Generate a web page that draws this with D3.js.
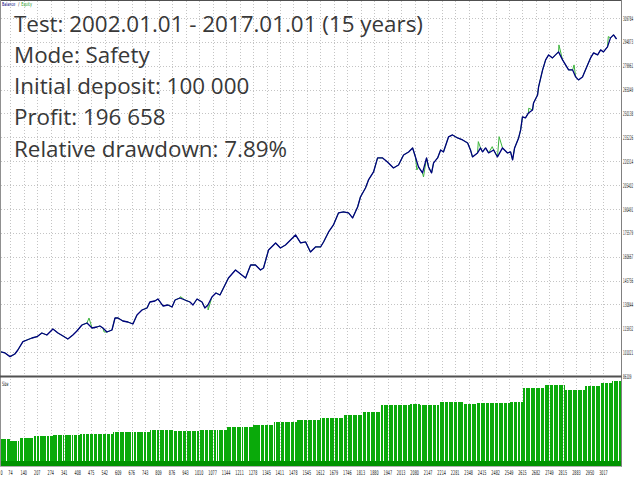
<!DOCTYPE html>
<html>
<head>
<meta charset="utf-8">
<script src="https://cdn.jsdelivr.net/npm/d3@7"></script>
<style>
  body { margin: 0; background: #fff; }
  svg { display: block; }
</style>
</head>
<body>
<svg width="640" height="480"></svg>
<script>
// balance curve (trade number, balance)
const balanceTrades = [0, 22, 47, 72, 96, 111, 136, 156, 181, 206, 230, 255, 285, 310, 335, 359, 384, 404, 429, 454,
  479, 503, 518, 533, 553, 578, 593, 608, 632, 657, 682, 702, 727, 752, 766, 791, 806, 831, 856, 876,
  891, 915, 940, 965, 980, 1000, 1025, 1039, 1054, 1074, 1094, 1114, 1156, 1191, 1241, 1266, 1290, 1315, 1330, 1355,
  1390, 1414, 1439, 1464, 1489, 1514, 1539, 1563, 1588, 1613, 1628, 1653, 1677, 1702, 1727, 1752, 1772, 1797, 1811, 1836,
  1851, 1876, 1896, 1921, 1945, 1975, 2000, 2025, 2050, 2070, 2084, 2099, 2119, 2139, 2149, 2164, 2174, 2194, 2209, 2223,
  2248, 2268, 2293, 2318, 2343, 2357, 2367, 2392, 2407, 2417, 2432, 2447, 2472, 2491, 2516, 2541, 2556, 2566, 2576, 2596,
  2606, 2615, 2630, 2645, 2665, 2670, 2690, 2695, 2715, 2730, 2745, 2764, 2779, 2794, 2814, 2829, 2844, 2864, 2879, 2893,
  2913, 2938, 2953, 2968, 2988, 3003, 3017, 3037, 3052, 3067, 3082];
const balanceValues = [100000, 101300, 100500, 98200, 99850, 102350, 107540, 108600, 109850, 110660, 112975, 111725, 115475, 112975, 111100, 109225, 111725, 114225, 117975, 119225,
  116100, 116725, 117350, 116100, 113600, 114850, 122350, 122350, 120475, 119850, 118600, 124225, 127350, 128600, 132350, 132975, 134225, 129850, 130475, 129225,
  133600, 134850, 133600, 132350, 130475, 134225, 132350, 128600, 130475, 135475, 137975, 136725, 147350, 152350, 147350, 155475, 155475, 152350, 153600, 164850,
  169225, 166100, 167975, 171100, 174225, 169225, 169850, 163600, 166725, 166725, 169850, 176100, 180475, 187975, 188600, 187975, 184850, 191725, 197975, 203600,
  208600, 213600, 222350, 222350, 219850, 216100, 217975, 224225, 226100, 228600, 222975, 216725, 212975, 222350, 216725, 212975, 219225, 222350, 227350, 226100,
  235475, 236725, 234850, 233600, 231725, 227350, 222975, 225475, 228600, 226100, 228600, 225475, 227350, 222975, 228600, 225475, 226100, 221100, 228600, 234850,
  239850, 247975, 247350, 250475, 252350, 256725, 261725, 266725, 277350, 283600, 286725, 284850, 286725, 288600, 283600, 280475, 277350, 277350, 272975, 271100,
  272975, 280475, 284850, 287975, 286725, 289850, 288600, 291725, 297350, 299225, 296658];

// equity where it leaves the balance line
const equityTrades = [464, 539, 918, 1055, 2091, 2124, 2396, 2465, 2499, 2646, 2796, 2871, 3041];
const equityValues = [122350, 113600, 135700, 127350, 214850, 210500, 232540, 229410, 235660, 253400, 292975, 280475, 298160];

// lot size steps (trade where the level starts, lots)
const lotStepTrades = [0, 72, 121, 185, 285, 419, 583, 682, 766, 880, 1015, 1064, 1149, 1278, 1377, 1496, 1610, 1724, 1824, 1908,
  2057, 2107, 2206, 2319, 2389, 2553, 2618, 2727, 2826, 2926, 3000, 3060];
const lotStepValues = [1.03, 0.97, 1.07, 1.14, 1.18, 1.22, 1.28, 1.31, 1.37, 1.35, 1.39, 1.37, 1.49, 1.58, 1.68, 1.75, 1.83, 1.94, 2.06, 2.32,
  2.36, 2.32, 2.44, 2.38, 2.40, 2.44, 2.97, 3.09, 2.90, 3.05, 3.16, 3.24];
// trades that opened at the minimum lot (each a short run of 5 trades)
const smallLotTrades = [52, 105, 118, 138, 184, 201, 216, 250, 267, 306, 328, 340, 373, 386, 403, 427, 444, 465, 485, 502,
  527, 548, 568, 589, 614, 637, 671, 681, 697, 730, 747, 770, 796, 813, 836, 857, 879, 902, 924, 945,
  968, 995, 1011, 1034, 1056, 1078, 1094, 1105, 1130, 1150, 1167, 1193, 1217, 1230, 1254, 1279, 1312, 1332, 1354, 1375,
  1388, 1412, 1431, 1461, 1481, 1498, 1524, 1544, 1569, 1590, 1614, 1635, 1656, 1680, 1701, 1723, 1743, 1768, 1792, 1817,
  1838, 1858, 1883, 1908, 1924, 1949, 1971, 1991, 2016, 2040, 2065, 2090, 2110, 2140, 2165, 2186, 2202, 2226, 2247, 2272,
  2292, 2318, 2338, 2358, 2384, 2404, 2429, 2450, 2474, 2495, 2520, 2540, 2566, 2586, 2603, 2628, 2652, 2677, 2702, 2722,
  2748, 2768, 2793, 2818, 2837, 2859, 2884, 2909, 2934, 2954, 2975, 3000, 3020, 3041, 3066, 3091];
const minLot = 0.2;
const runLength = 5;
const lastTrade = 3105;

const yTicks = [86109, 101021, 115932, 130844, 145756, 160667, 175579, 190491, 205402, 220314, 235226, 250138, 265049, 279961, 294873, 309784];
const xTicks = [0, 74, 140, 207, 274, 341, 408, 475, 542, 609, 676, 743, 809, 876, 943, 1010, 1077, 1144, 1211, 1278,
  1345, 1411, 1478, 1545, 1612, 1679, 1746, 1813, 1880, 1947, 2013, 2080, 2147, 2214, 2281, 2348, 2415, 2482, 2549, 2615,
  2682, 2749, 2815, 2883, 2950, 3017];

const infoLines = [
  "Test: 2002.01.01 - 2017.01.01 (15 years)",
  "Mode: Safety",
  "Initial deposit: 100 000",
  "Profit: 196 658",
  "Relative drawdown: 7.89%"
];

const W = 640, H = 480;
const plotRight = 621.5;
const mainTop = 0, mainBottom = 376;
const subTop = 378, subBottom = 466;

const svg = d3.select("svg");
svg.append("rect").attr("width", W).attr("height", H).attr("fill", "#fff");

const x = d3.scaleLinear().domain([0, lastTrade]).range([-4.5, 621.2]);
const y = d3.scaleLinear().domain([86109, 309784]).range([mainBottom, 18]);
const ySize = d3.scaleLinear().domain([0, 3.2]).range([subBottom, 382]);

const defs = svg.append("defs");
defs.append("clipPath").attr("id", "clipMain")
  .append("rect").attr("x", 0).attr("y", mainTop).attr("width", plotRight).attr("height", mainBottom - mainTop);
defs.append("clipPath").attr("id", "clipSub")
  .append("rect").attr("x", 0).attr("y", subTop).attr("width", plotRight).attr("height", subBottom - subTop);

// grid
const grid = svg.append("g").attr("stroke", "#c4c4c4").attr("stroke-width", 1).attr("stroke-dasharray", "1,2");
grid.selectAll(".hg").data(yTicks.slice(1)).enter().append("line")
  .attr("x1", 1).attr("x2", plotRight)
  .attr("y1", d => Math.round(y(d)) + 0.5).attr("y2", d => Math.round(y(d)) + 0.5);
grid.selectAll(".vg").data(xTicks.slice(1)).enter().append("line")
  .attr("x1", d => Math.round(x(d)) + 0.5).attr("x2", d => Math.round(x(d)) + 0.5)
  .attr("y1", 1).attr("y2", subBottom);

// size bars
const sizeG = svg.append("g").attr("clip-path", "url(#clipSub)").attr("shape-rendering", "crispEdges");
const smallSet = new Set();
smallLotTrades.forEach(s => { for (let k = 0; k < runLength; k++) smallSet.add(s + k); });
const breaks = Array.from(new Set([...lotStepTrades, ...smallLotTrades, ...smallLotTrades.map(s => s + runLength), lastTrade]))
  .sort((a, b) => a - b);
function stepLot(t) {
  let v = lotStepValues[0];
  lotStepTrades.forEach((s, k) => { if (t >= s) v = lotStepValues[k]; });
  return v;
}
const bars = [];
for (let k = 0; k < breaks.length - 1; k++) {
  const a = breaks[k], b = breaks[k + 1];
  bars.push({ a: a, b: b, lot: smallSet.has(a) ? minLot : stepLot(a) });
}
sizeG.selectAll("rect.bar").data(bars).enter().append("rect")
  .attr("class", "bar")
  .attr("x", d => x(d.a))
  .attr("width", d => Math.max(x(d.b) - x(d.a), 0.6))
  .attr("y", d => ySize(d.lot))
  .attr("height", d => subBottom - ySize(d.lot))
  .attr("fill", d => d.lot === minLot ? "#009400" : "#0aaa0a");
// every trade holds at least the minimum lot
sizeG.append("rect")
  .attr("x", x(0)).attr("width", x(lastTrade) - x(0))
  .attr("y", ySize(minLot)).attr("height", subBottom - ySize(minLot))
  .attr("fill", "#009400");

// equity + balance
const balance = balanceTrades.map((t, k) => ({ t: t, v: balanceValues[k] }));
const equity = balance.concat(equityTrades.map((t, k) => ({ t: t, v: equityValues[k] })))
  .sort((a, b) => a.t - b.t);
const line = d3.line().x(d => x(d.t)).y(d => y(d.v));
const mainG = svg.append("g").attr("clip-path", "url(#clipMain)");
mainG.append("path").datum(equity)
  .attr("d", line).attr("fill", "none").attr("stroke", "#3cb43c").attr("stroke-width", 1);
mainG.append("path").datum(balance)
  .attr("d", line).attr("fill", "none").attr("stroke", "#000080").attr("stroke-width", 1.3)
  .attr("stroke-linejoin", "round");

// frame
const frame = svg.append("g");
frame.append("line").attr("x1", 0).attr("x2", plotRight).attr("y1", 0.5).attr("y2", 0.5).attr("stroke", "#505050");
frame.append("line").attr("x1", 0.5).attr("x2", 0.5).attr("y1", 0).attr("y2", subBottom).attr("stroke", "#909090");
frame.append("line").attr("x1", plotRight).attr("x2", plotRight).attr("y1", 0).attr("y2", subBottom + 1).attr("stroke", "#808080");
frame.append("line").attr("x1", 0).attr("x2", plotRight).attr("y1", 376.5).attr("y2", 376.5)
  .attr("stroke", "#505050").attr("stroke-width", 2);
frame.append("line").attr("x1", 0).attr("x2", plotRight).attr("y1", subBottom + 0.5).attr("y2", subBottom + 0.5)
  .attr("stroke", "#b0b0b0");

// right axis labels (squeezed horizontally like the reference)
const yAxis = svg.append("g")
  .attr("transform", "translate(" + (plotRight + 1.5) + ",0)")
  .call(d3.axisRight(y).tickValues(yTicks).tickSize(0).tickPadding(0).tickFormat(d3.format("d")));
yAxis.select(".domain").remove();
yAxis.selectAll("text")
  .attr("font-family", "DejaVu Sans").attr("font-size", "6.5px").attr("fill", "#202020")
  .attr("transform", "scale(0.41,1)");

// bottom axis labels
const xAxis = svg.append("g")
  .attr("transform", "translate(0," + (subBottom + 1) + ")")
  .call(d3.axisBottom(x).tickValues(xTicks).tickSize(0).tickPadding(3).tickFormat(d3.format("d")));
xAxis.select(".domain").remove();
xAxis.selectAll(".tick").attr("transform", d => "translate(" + Math.max(x(d), 1.5) + ",0)");
xAxis.selectAll("text")
  .attr("font-family", "DejaVu Sans").attr("font-size", "6.5px").attr("fill", "#202020")
  .attr("transform", "scale(0.52,1)");

// small panel captions
const capParts = [
  { text: "Balance", x: 2, color: "#000080" },
  { text: "/", x: 18.2, color: "#000" },
  { text: "Equity", x: 21.3, color: "#1a9a1a" }
];
svg.append("g").selectAll("text").data(capParts).enter().append("text")
  .attr("transform", d => "translate(" + d.x + ",6.2) scale(0.6,1)")
  .attr("font-family", "DejaVu Sans").attr("font-size", "5.6px")
  .attr("fill", d => d.color)
  .text(d => d.text);
svg.append("text")
  .attr("transform", "translate(2,386) scale(0.52,1)")
  .attr("font-family", "DejaVu Sans").attr("font-size", "6px").attr("fill", "#000")
  .text("Size");

// report text
svg.append("g").selectAll("text").data(infoLines).enter().append("text")
  .attr("x", 14)
  .attr("y", (d, i) => 31.5 + i * 31.3)
  .attr("font-family", "Open Sans")
  .attr("font-size", "22.4px")
  .attr("fill", "#383838")
  .text(d => d);
</script>
</body>
</html>
